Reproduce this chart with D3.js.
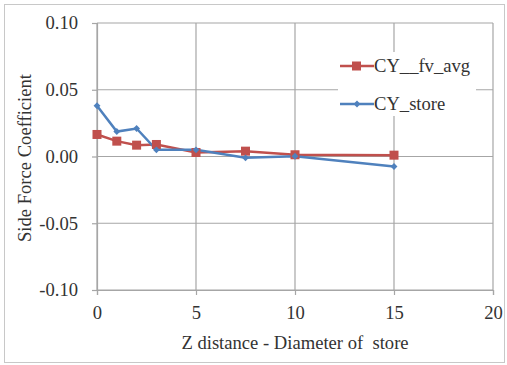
<!DOCTYPE html>
<html><head><meta charset="utf-8">
<script src="https://cdn.jsdelivr.net/npm/d3@7"></script>
<style>body{margin:0;background:#fff}svg{display:block}</style>
</head><body>
<script>
const zDistance = [0, 1, 2, 3, 5, 7.5, 10, 15];
const cyFvAvg = [0.0165, 0.0115, 0.0085, 0.009, 0.003, 0.004, 0.0013, 0.001];
const cyStore = [0.038, 0.0187, 0.021, 0.005, 0.005, -0.001, 0.0002, -0.0075];
const xTicks = [0, 5, 10, 15, 20];
const yTicks = [-0.10, -0.05, 0.00, 0.05, 0.10];
const seriesNames = ["CY__fv_avg", "CY_store"];

const W = 507, H = 365;
const svg = d3.select("body").append("svg").attr("width", W).attr("height", H);
svg.append("rect").attr("x", 4.5).attr("y", 4.5).attr("width", 500).attr("height", 358)
  .attr("fill", "#fff").attr("stroke", "#c8c8c8");

const x = d3.scaleLinear().domain([0, 20]).range([97, 493]);
const y = d3.scaleLinear().domain([-0.10, 0.10]).range([290, 23]);
const font = '"Liberation Serif", "DejaVu Serif", serif';
const fs = 18.6;
const grid = "#a6a6a6";
const fmt = d => d3.format(".2f")(d).replace("\u2212", "-");

svg.append("g").selectAll("line").data(yTicks).join("line")
  .attr("x1", x(0)).attr("x2", x(20)).attr("y1", d => y(d)).attr("y2", d => y(d))
  .attr("stroke", grid).attr("stroke-width", 1.2);
svg.append("g").selectAll("line").data(xTicks).join("line")
  .attr("x1", d => x(d)).attr("x2", d => x(d)).attr("y1", y(-0.10)).attr("y2", y(0.10))
  .attr("stroke", grid).attr("stroke-width", 1.2);

const ya = svg.append("g").attr("transform", `translate(${x(0)},0)`)
  .call(d3.axisLeft(y).tickValues(yTicks).tickFormat(fmt).tickSize(5).tickPadding(14));
const xa = svg.append("g").attr("transform", `translate(0,${y(-0.10)})`)
  .call(d3.axisBottom(x).tickValues(xTicks).tickSize(5).tickPadding(11));
[ya, xa].forEach(a => {
  a.attr("font-family", font).attr("font-size", fs);
  a.select(".domain").attr("stroke", grid).attr("stroke-width", 1.2);
  a.selectAll(".tick line").attr("stroke", grid).attr("stroke-width", 1.2);
  a.selectAll("text").attr("fill", "#333");
});

svg.append("rect").attr("x", 338).attr("y", 52).attr("width", 138).attr("height", 64).attr("fill", "#fff");

const colors = ["#c0504d", "#4f81bd"];
const data = [cyFvAvg, cyStore];
const line = d3.line().x((d, i) => x(zDistance[i])).y(d => y(d));

data.forEach((s, k) => {
  svg.append("path").datum(s).attr("d", line).attr("fill", "none")
    .attr("stroke", colors[k]).attr("stroke-width", 2.5);
});
svg.append("g").selectAll("rect").data(cyFvAvg).join("rect")
  .attr("x", (d, i) => x(zDistance[i]) - 4.5).attr("y", d => y(d) - 4.5)
  .attr("width", 9).attr("height", 9).attr("fill", colors[0]);
svg.append("g").selectAll("path").data(cyStore).join("path")
  .attr("d", d3.symbol().type(d3.symbolDiamond2).size(30))
  .attr("transform", (d, i) => `translate(${x(zDistance[i])},${y(d)})`).attr("fill", colors[1]);

const ly = [66, 104];
seriesNames.forEach((n, k) => {
  svg.append("line").attr("x1", 340).attr("x2", 374).attr("y1", ly[k]).attr("y2", ly[k])
    .attr("stroke", colors[k]).attr("stroke-width", 2.5);
  if (k === 0) svg.append("rect").attr("x", 352).attr("y", ly[k] - 4.5).attr("width", 9).attr("height", 9).attr("fill", colors[0]);
  else svg.append("path").attr("d", d3.symbol().type(d3.symbolDiamond2).size(30))
    .attr("transform", `translate(357,${ly[k]})`).attr("fill", colors[1]);
  svg.append("text").attr("x", 374).attr("y", ly[k] + 6).text(n)
    .attr("font-family", font).attr("font-size", fs).attr("fill", "#333");
});

svg.append("text").attr("x", 295).attr("y", 349).attr("text-anchor", "middle")
  .attr("font-family", font).attr("font-size", fs).attr("fill", "#333")
  .style("white-space", "pre").text("Z distance - Diameter of  store");
svg.append("text").attr("transform", "translate(31,158) rotate(-90)").attr("text-anchor", "middle")
  .attr("font-family", font).attr("font-size", fs).attr("fill", "#333")
  .text("Side Force Coefficient");
</script>
</body></html>
